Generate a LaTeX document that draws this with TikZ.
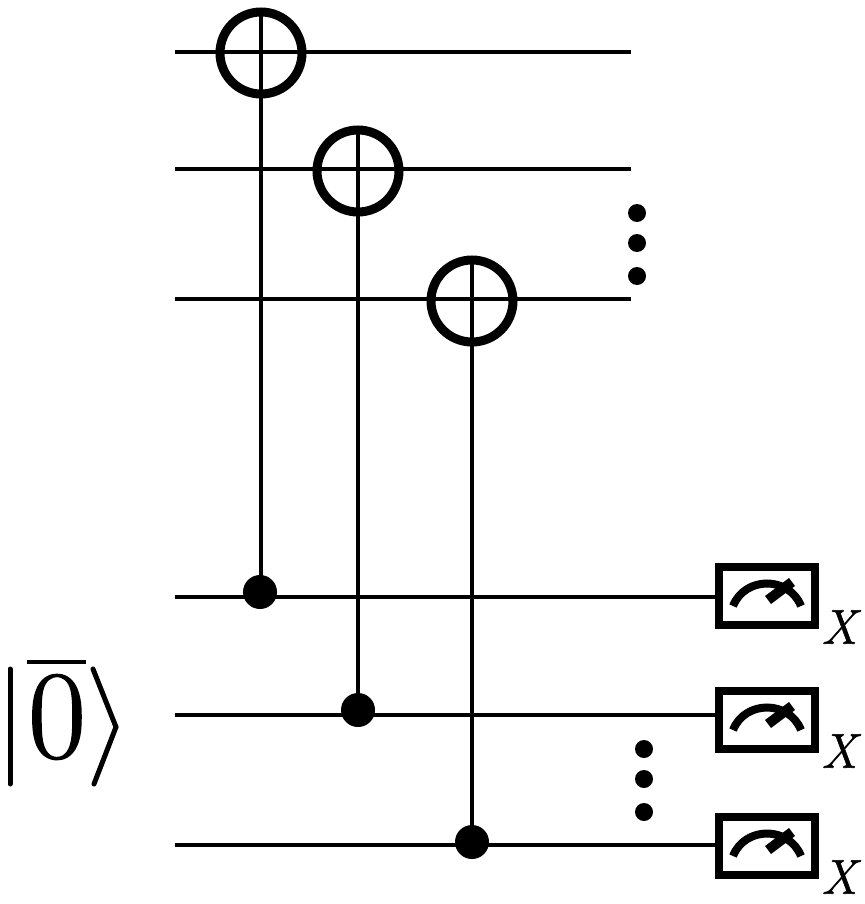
\documentclass[tikz,border=0pt]{standalone}
\usepackage{fontspec}
\newfontfamily\lmface[FakeBold=1.2]{Latin Modern Roman}
\begin{document}
\begin{tikzpicture}[x=1pt,y=-1pt,
  wire/.style={line width=4.3pt},
  target/.style={circle,draw,line width=9pt,minimum size=82pt,inner sep=0pt,outer sep=0pt},
  ctrl/.style={circle,fill=black,minimum size=34pt,inner sep=0pt,outer sep=0pt},
  vdot/.style={circle,fill=black,minimum size=18pt,inner sep=0pt,outer sep=0pt},
  meter/.style={rectangle,draw,line width=8.5pt,fill=white,minimum width=96pt,minimum height=58pt,inner sep=0pt,outer sep=0pt},
  xlabel/.style={font=\lmface\itshape\fontsize{49}{49}\selectfont,inner sep=0pt},
]
\useasboundingbox (0,0) rectangle (864,904);
% wire ends
\coordinate (a1) at (175,52);  \coordinate (b1) at (631,52);
\coordinate (a2) at (175,169); \coordinate (b2) at (631,169);
\coordinate (a3) at (175,299); \coordinate (b3) at (631,299);
\coordinate (a4) at (175,597);
\coordinate (a5) at (175,715);
\coordinate (a6) at (175,845);
% nodes
\node[target] (t1) at (261,53) {};
\node[target] (t2) at (358,171) {};
\node[target] (t3) at (472,301) {};
\node[ctrl] (c1) at (260,592) {};
\node[ctrl] (c2) at (358,710) {};
\node[ctrl] (c3) at (472,842) {};
\node[meter] (m1) at (767,596) {};
\node[meter] (m2) at (767,720) {};
\node[meter] (m3) at (767,846) {};
% wires
\draw[wire] (a1) -- (b1);
\draw[wire] (a2) -- (b2);
\draw[wire] (a3) -- (b3);
\draw[wire] (a4) -- (a4 -| m1.west);
\draw[wire] (a5) -- (a5 -| m2.west);
\draw[wire] (a6) -- (a6 -| m3.west);
\draw[wire] (t1.north) -- (t1.north |- c1);
\draw[wire] (t2.north) -- (c2);
\draw[wire] (t3.north) -- (c3);
% meter dials
\foreach \y in {596,720,846}{
  \draw[line width=8pt] (733,\y+10) .. controls (745,\y-20) and (789,\y-20) .. (801,\y+10);
  \draw[line width=10pt] (768,\y+4) -- (792,\y-14);
}
% dots
\node[vdot] (d1) at (637,213) {};
\node[vdot] (d2) at (637,243) {};
\node[vdot] (d3) at (637,276) {};
\node[vdot] (d4) at (644,749) {};
\node[vdot] (d5) at (644,779) {};
\node[vdot] (d6) at (644,812) {};
% X labels
\node[xlabel] (x1) at (839,627) {X};
\node[xlabel] (x2) at (839,751) {X};
\node[xlabel] (x3) at (839,877) {X};
% ket
\node[inner sep=0pt,font=\lmface\fontsize{126}{126}\selectfont] (zero) at (57,717) {0};
\draw[line width=5pt,line cap=round] (10,669) -- (10,784);
\draw[line width=4.5pt] (27,662) -- (86,662);
\draw[line width=5pt,line cap=round,line join=miter] (93,669) -- (116,727) -- (94,784);
\end{tikzpicture}
\end{document}
